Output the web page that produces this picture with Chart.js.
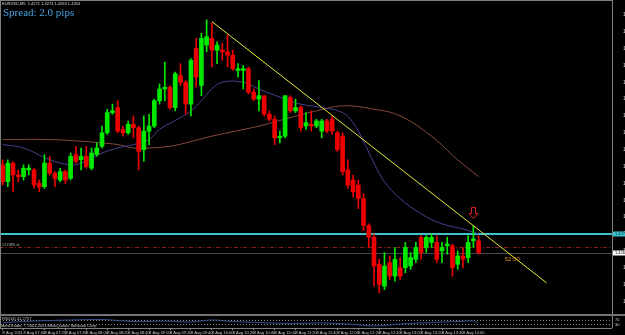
<!DOCTYPE html>
<html>
<head>
<meta charset="utf-8">
<title>EURUSD,M5</title>
<script src="https://cdn.jsdelivr.net/npm/chart.js@4.4.1/dist/chart.umd.min.js"></script>
<style>
  body { margin: 0; background: #000; }
  #wrap { position: relative; width: 625px; height: 335px; overflow: hidden; background: #000; }
  canvas { position: absolute; left: 0; }
  #main { top: 0; width: 625px; height: 314px; }
  #sub { top: 314px; width: 625px; height: 21px; }
</style>
</head>
<body>
<div id="wrap">
  <canvas id="main" width="625" height="314"></canvas>
  <canvas id="sub" width="625" height="21"></canvas>
</div>
<script>
// EURUSD M5, 92 bars
const opens = [
  1.4316,1.4306,1.4317,1.4310,1.4309,1.4313,1.4313,1.4305,1.4303,1.4317,
  1.4311,1.4307,1.4312,1.4308,1.4322,1.4319,1.4321,1.4314,1.4322,1.4327,
  1.4335,1.4347,1.4350,1.4337,1.4335,1.4340,1.4338,1.4325,1.4336,1.4339,
  1.4354,1.4361,1.4362,1.4350,1.4369,1.4365,1.4352,1.4385,1.4363,1.4387,
  1.4391,1.4384,1.4384,1.4383,1.4381,1.4372,1.4372,1.4373,1.4359,1.4355,
  1.4357,1.4346,1.4343,1.4332,1.4333,1.4356,1.4348,1.4350,1.4339,1.4340,
  1.4339,1.4336,1.4342,1.4343,1.4335,1.4333,1.4313,1.4307,1.4304,1.4296,
  1.4280,1.4273,1.4257,1.4244,1.4258,1.4250,1.4255,1.4255,1.4256,1.4260,
  1.4273,1.4267,1.4270,1.4270,1.4265,1.4268,1.4268,1.4257,1.4262,1.4261,
  1.4271,1.4271
];
const highs = [
  1.4319,1.4319,1.4318,1.4313,1.4316,1.4316,1.4314,1.4307,1.4322,1.4321,
  1.4312,1.4314,1.4313,1.4323,1.4327,1.4326,1.4327,1.4326,1.4329,1.4339,
  1.4349,1.4352,1.4354,1.4339,1.4342,1.4345,1.4339,1.4345,1.4346,1.4355,
  1.4364,1.4377,1.4363,1.4371,1.4376,1.4366,1.4379,1.4391,1.4394,1.4402,
  1.4400,1.4389,1.4388,1.4393,1.4384,1.4376,1.4375,1.4374,1.4361,1.4366,
  1.4357,1.4348,1.4345,1.4336,1.4357,1.4357,1.4355,1.4351,1.4347,1.4348,
  1.4343,1.4343,1.4343,1.4345,1.4336,1.4335,1.4319,1.4310,1.4307,1.4299,
  1.4281,1.4275,1.4260,1.4264,1.4262,1.4267,1.4261,1.4270,1.4264,1.4270,
  1.4274,1.4274,1.4275,1.4274,1.4270,1.4273,1.4269,1.4265,1.4267,1.4274,
  1.4280,1.4274
];
const lows = [
  1.4304,1.4303,1.4300,1.4306,1.4307,1.4310,1.4302,1.4300,1.4302,1.4310,
  1.4303,1.4306,1.4305,1.4307,1.4317,1.4313,1.4314,1.4313,1.4321,1.4326,
  1.4334,1.4346,1.4335,1.4333,1.4334,1.4332,1.4313,1.4318,1.4328,1.4338,
  1.4352,1.4354,1.4349,1.4348,1.4363,1.4346,1.4345,1.4362,1.4357,1.4383,
  1.4374,1.4376,1.4378,1.4374,1.4372,1.4368,1.4361,1.4358,1.4354,1.4348,
  1.4345,1.4342,1.4328,1.4329,1.4332,1.4347,1.4347,1.4336,1.4337,1.4336,
  1.4338,1.4332,1.4335,1.4334,1.4324,1.4310,1.4302,1.4297,1.4290,1.4277,
  1.4267,1.4244,1.4240,1.4242,1.4248,1.4247,1.4248,1.4252,1.4254,1.4258,
  1.4260,1.4264,1.4267,1.4258,1.4258,1.4263,1.4250,1.4254,1.4255,1.4258,
  1.4267,1.4263
];
const closes = [
  1.4306,1.4317,1.4310,1.4309,1.4314,1.4314,1.4304,1.4303,1.4317,1.4311,
  1.4308,1.4312,1.4307,1.4321,1.4318,1.4321,1.4315,1.4323,1.4326,1.4335,
  1.4347,1.4348,1.4336,1.4335,1.4340,1.4338,1.4324,1.4336,1.4339,1.4354,
  1.4361,1.4362,1.4350,1.4370,1.4365,1.4352,1.4378,1.4368,1.4391,1.4392,
  1.4384,1.4387,1.4383,1.4381,1.4373,1.4373,1.4373,1.4359,1.4355,1.4357,
  1.4346,1.4343,1.4332,1.4333,1.4357,1.4348,1.4350,1.4338,1.4341,1.4339,
  1.4342,1.4342,1.4336,1.4336,1.4325,1.4312,1.4304,1.4300,1.4296,1.4280,
  1.4273,1.4256,1.4245,1.4256,1.4250,1.4260,1.4250,1.4267,1.4261,1.4267,
  1.4264,1.4273,1.4273,1.4260,1.4267,1.4269,1.4255,1.4262,1.4260,1.4270,
  1.4272,1.4264
];

// moving averages (read at a few bars, drawn as smooth lines)
const fastMaBars = [0,4,9,13,15,19,22,25,28,30,34,36,38,40,42,46,49,54,57,61,65,67,69,71,73,76,80,84,88,91];
const fastMaValues = [1.4328,1.4326,1.4319,1.4316,1.4317,1.4323,1.4326,1.4328,1.4331,1.4337,1.4344,1.4348,1.4354,1.4361,1.4365,
  1.4365,1.4361,1.4355,1.4352,1.4350,1.4347,1.4341,1.4330,1.4317,1.4306,1.4296,1.4287,1.4281,1.4278,1.4275];
const slowMaBars = [0,9,15,19,22,25,28,32,35,40,49,55,60,65,71,76,82,87,91];
const slowMaValues = [1.4331,1.4331,1.4330,1.4329,1.4328,1.4326,1.4326,1.4327,1.4329,1.4333,1.4339,1.4344,1.4348,1.4351,
  1.4349,1.4345,1.4333,1.4319,1.4309];

// trend line drawn by hand on the chart
const trendBars = [40, 104];
const trendValues = [1.4401, 1.4246];

// RSI sub window
const rsiBars = [0,6,13,19,22,26,31,36,40,44,49,55,61,66,71,73,76,82,87,90,91];
const rsiValues = [44,58,67,71,63,53,58,50,67,54,46,38,42,33,17,21,33,46,54,58,41];
const rsiLevels = [70, 30];

// horizontal levels
const alertLevel = 1.4275;
const slLevel = 1.4267;
const bidLevel = 1.4264;
const arrowBar = 90;
const arrowPrice = 1.4291;
const timerBar = 96;
const timerPrice = 1.4260;
const timerText = "52:50";
const slText = "#27495 sl";

const priceTicks = [1.4405,1.4395,1.4385,1.4375,1.4365,1.4355,1.4345,1.4335,1.4325,1.4315,
  1.4305,1.4295,1.4285,1.4275,1.4265,1.4255,1.4245,1.4235];
const timeLabels = ["8 Aug 2011","8 Aug 07:00","8 Aug 07:20","8 Aug 07:40","8 Aug 08:00","8 Aug 08:20",
  "8 Aug 08:40","8 Aug 09:00","8 Aug 09:20","8 Aug 09:40","8 Aug 10:00","8 Aug 10:20","8 Aug 10:40",
  "8 Aug 11:00","8 Aug 11:20","8 Aug 11:40","8 Aug 12:00","8 Aug 12:20","8 Aug 12:40","8 Aug 13:00",
  "8 Aug 13:20","8 Aug 13:40","8 Aug 14:00"];
const slots = 117; // bars + empty space to the right

const headerText = "EURUSD,M5  1.4271 1.4274 1.4263 1.4264";
const spreadText = "Spread: 2.0 pips";
const rsiText = "RSI(14) 41.2757";
const copyText = "MetaTrader, \u00a9 2001-2011 MetaQuotes Software Corp.";

const bull = "#00ea00";
const bear = "#ec0000";
const tiny = "4px 'Liberation Sans'";

const categories = Array.from({ length: slots }, (_, i) => i);

function sparse(bars, values) {
  const out = new Array(slots).fill(null);
  bars.forEach((b, i) => { out[b] = values[i]; });
  return out;
}

function hline(ctx, x0, x1, yy) {
  ctx.beginPath();
  ctx.moveTo(x0, yy);
  ctx.lineTo(x1, yy);
  ctx.stroke();
}

const colors = closes.map((c, i) => (c >= opens[i] ? bull : bear));

const mainPlugin = {
  id: "mainOverlay",
  beforeDatasetsDraw(chart) {
    const { ctx, chartArea: a, scales: { y } } = chart;
    ctx.save();
    ctx.lineWidth = 1;
    ctx.strokeStyle = "#484848";
    hline(ctx, a.left, a.right, Math.round(y.getPixelForValue(bidLevel)) + 0.5);
    ctx.strokeStyle = "#8e1d1d";
    ctx.setLineDash([4, 2, 1, 2]);
    hline(ctx, a.left, a.right, Math.round(y.getPixelForValue(slLevel)) + 0.5);
    ctx.setLineDash([]);
    ctx.strokeStyle = "#3ec2cc";
    ctx.lineWidth = 2;
    hline(ctx, a.left, a.right, Math.round(y.getPixelForValue(alertLevel)));
    ctx.fillStyle = "#bdbdbd";
    ctx.font = tiny;
    ctx.textBaseline = "bottom";
    ctx.fillText(slText, a.left + 2, y.getPixelForValue(slLevel) - 0.5);
    ctx.restore();
  },
  afterDraw(chart) {
    const { ctx, chartArea: a, scales: { x, y } } = chart;
    ctx.save();
    // frame
    ctx.strokeStyle = "#808080";
    ctx.lineWidth = 1;
    hline(ctx, 0, a.right, 0.5);
    ctx.beginPath();
    ctx.moveTo(0.5, 0); ctx.lineTo(0.5, chart.height);
    ctx.moveTo(a.right + 0.5, 0); ctx.lineTo(a.right + 0.5, chart.height);
    ctx.stroke();

    // arrow above last bars
    const cx = Math.round(x.getPixelForValue(arrowBar)) + 0.5;
    const top = Math.round(y.getPixelForValue(arrowPrice)) + 0.5;
    ctx.strokeStyle = "#d42424";
    ctx.beginPath();
    ctx.moveTo(cx - 2, top); ctx.lineTo(cx + 2, top); ctx.lineTo(cx + 2, top + 6);
    ctx.lineTo(cx + 4.5, top + 6); ctx.lineTo(cx, top + 11); ctx.lineTo(cx - 4.5, top + 6);
    ctx.lineTo(cx - 2, top + 6); ctx.closePath();
    ctx.stroke();

    // timer text
    ctx.fillStyle = "#d88e2c";
    ctx.font = "6px 'Liberation Sans'";
    ctx.textBaseline = "middle";
    ctx.fillText(timerText, x.getPixelForValue(timerBar), y.getPixelForValue(timerPrice));

    // price boxes on axis
    const boxes = [[alertLevel, "#3ec2cc", "#0b3940"], [bidLevel, "#ffffff", "#000000"]];
    ctx.font = tiny;
    boxes.forEach(([v, bg, fg]) => {
      const py = y.getPixelForValue(v);
      ctx.fillStyle = bg;
      ctx.fillRect(a.right + 1, Math.round(py) - 2.5, chart.width - a.right - 1, 5);
      ctx.fillStyle = fg;
      ctx.fillText(v.toFixed(4), a.right + 3, py);
    });

    // header and spread
    ctx.fillStyle = "#dcdcdc";
    ctx.font = tiny;
    ctx.fillText(headerText, 2, 3.5);
    ctx.fillStyle = "#44a2de";
    ctx.font = "11px 'Liberation Serif'";
    ctx.textBaseline = "alphabetic";
    ctx.fillText(spreadText, 3, 16);
    ctx.restore();
  }
};

new Chart(document.getElementById("main"), {
  type: "bar",
  data: {
    labels: categories,
    datasets: [
      {
        type: "line",
        data: sparse(trendBars, trendValues),
        borderColor: "#e8e838",
        borderWidth: 1,
        pointRadius: 0,
        spanGaps: true,
        tension: 0,
        order: 0
      },
      {
        data: opens.map((o, i) => [o, closes[i]]),
        backgroundColor: colors,
        barThickness: 4,
        minBarLength: 1,
        grouped: false,
        borderWidth: 0,
        order: 1
      },
      {
        data: lows.map((l, i) => [l, highs[i]]),
        backgroundColor: colors,
        barThickness: 1,
        grouped: false,
        borderWidth: 0,
        order: 2
      },
      {
        type: "line",
        data: sparse(fastMaBars, fastMaValues),
        borderColor: "#4a3f8e",
        borderWidth: 1,
        pointRadius: 0,
        spanGaps: true,
        tension: 0.4,
        order: 3
      },
      {
        type: "line",
        data: sparse(slowMaBars, slowMaValues),
        borderColor: "#844a3a",
        borderWidth: 1,
        pointRadius: 0,
        spanGaps: true,
        tension: 0.4,
        order: 4
      }
    ]
  },
  options: {
    responsive: false,
    animation: false,
    devicePixelRatio: 1,
    events: [],
    layout: { padding: { top: 2, bottom: 2, left: 0, right: 0 } },
    plugins: { legend: { display: false }, tooltip: { enabled: false } },
    scales: {
      x: { display: false, offset: true },
      y: {
        position: "right",
        min: 1.42311,
        max: 1.44102,
        grid: { display: false },
        border: { display: false },
        afterBuildTicks: (s) => { s.ticks = priceTicks.map((v) => ({ value: v })); },
        afterFit: (s) => { s.width = 13; },
        ticks: {
          autoSkip: false,
          padding: 3,
          color: "#d4d4d4",
          font: { size: 5, family: "Liberation Sans" },
          callback: (v) => Number(v).toFixed(4)
        }
      }
    }
  },
  plugins: [mainPlugin]
});

const subPlugin = {
  id: "subOverlay",
  beforeDatasetsDraw(chart) {
    const { ctx, chartArea: a, scales: { y } } = chart;
    ctx.save();
    ctx.strokeStyle = "#8a8a8a";
    ctx.lineWidth = 1;
    ctx.setLineDash([1, 2]);
    rsiLevels.forEach((v) => hline(ctx, a.left, a.right, Math.round(y.getPixelForValue(v)) + 0.5));
    ctx.setLineDash([]);
    ctx.restore();
  },
  afterDraw(chart) {
    const { ctx, chartArea: a, scales: { y } } = chart;
    ctx.save();
    ctx.strokeStyle = "#9a9a9a";
    ctx.lineWidth = 1.5;
    hline(ctx, 0, chart.width, 1);
    ctx.lineWidth = 1;
    ctx.strokeStyle = "#808080";
    hline(ctx, 0, a.right, a.bottom + 0.5);
    ctx.beginPath();
    ctx.moveTo(a.right + 0.5, 1); ctx.lineTo(a.right + 0.5, a.bottom);
    ctx.moveTo(0.5, 1); ctx.lineTo(0.5, a.bottom);
    ctx.stroke();
    ctx.font = tiny;
    ctx.textBaseline = "middle";
    ctx.fillStyle = "#c8c8c8";
    rsiLevels.forEach((v) => ctx.fillText(String(v), a.right + 3, y.getPixelForValue(v)));
    ctx.fillText(rsiText, 2, 4.5);
    ctx.fillText(copyText, 1, 12);
    ctx.restore();
  }
};

new Chart(document.getElementById("sub"), {
  type: "line",
  data: {
    labels: categories,
    datasets: [{
      data: sparse(rsiBars, rsiValues),
      borderColor: "#34508c",
      borderWidth: 1,
      pointRadius: 0,
      spanGaps: true,
      tension: 0.4
    }]
  },
  options: {
    responsive: false,
    animation: false,
    devicePixelRatio: 1,
    events: [],
    layout: { padding: { top: 2, bottom: 0, left: 0, right: 0 } },
    plugins: { legend: { display: false }, tooltip: { enabled: false } },
    scales: {
      x: {
        offset: true,
        afterFit: (s) => { s.height = 7; },
        border: { display: false },
        grid: {
          display: true,
          drawOnChartArea: false,
          drawTicks: true,
          tickLength: 2,
          color: (c) => (c.index % 4 === 0 && timeLabels[c.index / 4] ? "#a0a0a0" : "rgba(0,0,0,0)")
        },
        ticks: {
          autoSkip: false,
          maxRotation: 0,
          minRotation: 0,
          align: "start",
          padding: 0,
          color: "#c8c8c8",
          font: { size: 4, family: "Liberation Sans" },
          callback: (v, i) => (i % 4 === 0 && timeLabels[i / 4] ? timeLabels[i / 4] : "")
        }
      },
      y: {
        position: "right",
        min: 0,
        max: 100,
        grid: { display: false },
        border: { display: false },
        afterFit: (s) => { s.width = 13; },
        ticks: { display: false }
      }
    }
  },
  plugins: [subPlugin]
});
</script>
</body>
</html>
